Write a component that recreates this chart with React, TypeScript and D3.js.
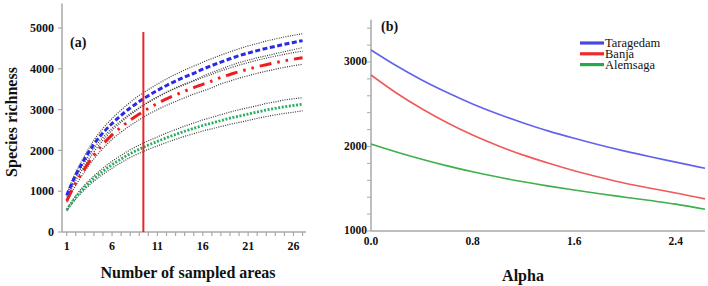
import React from "react";
import * as d3 from "d3";

// ---------- Panel (a): rarefaction curves ----------
const samples = [1,2,3,4,5,6,7,8,9,10,11,12,13,14,15,16,17,18,19,20,21,22,23,24,25,26,27];
const taragedamMean = [900,1400,1800,2150,2430,2660,2860,3040,3200,3340,3470,3590,3700,3800,3890,3990,4080,4165,4245,4320,4385,4445,4500,4550,4600,4645,4690];
const taragedamUpper = [930,1460,1880,2250,2540,2780,2990,3180,3350,3490,3625,3750,3865,3970,4065,4160,4250,4335,4415,4490,4560,4620,4680,4730,4780,4820,4860];
const taragedamLower = [870,1340,1720,2050,2320,2540,2730,2900,3050,3190,3315,3430,3535,3630,3715,3820,3910,3995,4075,4150,4210,4270,4320,4370,4420,4470,4520];
const banjaMean = [760,1200,1560,1880,2150,2380,2570,2740,2890,3030,3150,3260,3360,3450,3540,3620,3700,3790,3860,3930,3990,4050,4100,4150,4195,4235,4270];
const banjaUpper = [790,1255,1630,1965,2250,2490,2690,2870,3030,3175,3300,3415,3520,3610,3700,3785,3865,3950,4020,4090,4150,4210,4260,4310,4355,4395,4430];
const banjaLower = [730,1145,1490,1795,2050,2270,2450,2610,2750,2885,3000,3105,3200,3290,3380,3455,3535,3630,3700,3770,3830,3890,3940,3990,4035,4075,4110];
const alemsagaMean = [540,850,1100,1310,1490,1650,1790,1920,2030,2130,2220,2310,2390,2470,2540,2610,2670,2730,2790,2840,2890,2940,2990,3030,3070,3100,3130];
const alemsagaUpper = [560,890,1155,1375,1565,1735,1880,2015,2130,2235,2330,2425,2510,2595,2670,2745,2810,2875,2940,2995,3045,3095,3150,3190,3235,3265,3290];
const alemsagaLower = [520,810,1045,1245,1415,1565,1700,1825,1930,2025,2110,2195,2270,2345,2410,2475,2530,2585,2640,2685,2735,2785,2830,2870,2905,2935,2970];
const aYTicks = [0,1000,2000,3000,4000,5000];
const aXTickLabels = [1,6,11,16,21,26];
const cutoffSample = 9.45;
const cutoffTop = 4900;

// ---------- Panel (b): diversity profiles ----------
const alphas = [0,0.2,0.4,0.6,0.8,1.0,1.2,1.4,1.6,1.8,2.0,2.2,2.4,2.63];
const taragedamProfile = [3142,2955,2787,2638,2503,2384,2279,2182,2097,2018,1945,1878,1815,1742];
const banjaProfile = [2846,2633,2446,2281,2136,2010,1898,1802,1714,1636,1565,1505,1450,1380];
const alemsagaProfile = [2030,1935,1849,1771,1702,1639,1582,1531,1485,1441,1400,1360,1318,1258];
const bYTicks = [1000,2000,3000];
const bXTicks = [0,0.8,1.6,2.4];
const legendNames = ["Taragedam","Banja","Alemsaga"];

const serif = "'Times New Roman', 'Liberation Serif', serif";
const axisColor = "#a9a9a9";
const txt = { fontFamily: serif };

export default function App() {
  const xA = d3.scaleLinear().domain([0.48, 27.38]).range([62, 306]);
  const yA = d3.scaleLinear().domain([0, 5600]).range([232, 3.5]);
  const lineA = (vals: number[]) =>
    d3.line<number>().x((_, i) => xA(samples[i])).y((v) => yA(v)).curve(d3.curveMonotoneX)(vals) || "";

  const xB = d3.scaleLinear().domain([0, 2.63]).range([371, 705]);
  const yB = d3.scaleLinear().domain([1000, 3500]).range([231, 19.75]);
  const lineB = (vals: number[]) =>
    d3.line<number>().x((_, i) => xB(alphas[i])).y((v) => yB(v)).curve(d3.curveMonotoneX)(vals) || "";

  const bounds = [taragedamUpper, taragedamLower, banjaUpper, banjaLower, alemsagaUpper, alemsagaLower];
  const bMinor = d3.range(1000, 3500, 200);
  const legendColors = ["#4848e0", "#ee2a2a", "#28a84a"];
  const profileColors = ["#6262ef", "#f05a5a", "#3fae4c"];
  const profiles = [taragedamProfile, banjaProfile, alemsagaProfile];

  return (
    <svg width={708} height={286} style={{ position: "absolute", left: 0, top: 0, background: "#fff" }}>
      <g>
        <line x1={62} x2={62} y1={yA.range()[1]} y2={232} stroke={axisColor} strokeWidth={1.5} />
        <line x1={62} x2={306} y1={232} y2={232} stroke={axisColor} strokeWidth={1.5} />
        {aYTicks.map((t) => (
          <g key={"ay" + t}>
            <line x1={58} x2={62} y1={yA(t)} y2={yA(t)} stroke={axisColor} strokeWidth={1.2} />
            <text x={54} y={yA(t)} dy="0.35em" textAnchor="end" fontSize={12} fontWeight="bold" fill="#111" style={txt}>{t}</text>
          </g>
        ))}
        {samples.map((s) => (
          <line key={"axm" + s} x1={xA(s)} x2={xA(s)} y1={232} y2={236} stroke={axisColor} strokeWidth={1.2} />
        ))}
        {aXTickLabels.map((t) => (
          <text key={"ax" + t} x={xA(t)} y={250} textAnchor="middle" fontSize={12} fontWeight="bold" fill="#111" style={txt}>{t}</text>
        ))}
        <text x={188} y={278} textAnchor="middle" fontSize={16} fontWeight="bold" fill="#111" style={txt}>Number of sampled areas</text>
        <text transform="translate(17,122) rotate(-90)" textAnchor="middle" fontSize={16} fontWeight="bold" fill="#111" style={txt}>Species richness</text>
        <text x={70} y={47} fontSize={14} fontWeight="bold" fill="#111" style={txt}>(a)</text>

        {bounds.map((b, i) => (
          <path key={"bd" + i} d={lineA(b)} fill="none" stroke="#3a3a3a" strokeWidth={1.2} strokeDasharray="1,1.3" />
        ))}
        <path d={lineA(alemsagaMean)} fill="none" stroke="#25b060" strokeWidth={2.8} strokeDasharray="2,1.6" />
        <path d={lineA(banjaMean)} fill="none" stroke="#ee1c1c" strokeWidth={3} strokeDasharray="12,6,2.5,6,2.5,6" />
        <path d={lineA(taragedamMean)} fill="none" stroke="#2a2ae6" strokeWidth={3} strokeDasharray="5,2.5" />

        <line x1={xA(cutoffSample)} x2={xA(cutoffSample)} y1={yA(cutoffTop)} y2={232} stroke="#e8262a" strokeWidth={2} />
      </g>

      <g>
        <line x1={371} x2={371} y1={yB(3500)} y2={231} stroke={axisColor} strokeWidth={1.5} />
        <line x1={371} x2={705} y1={231} y2={231} stroke={axisColor} strokeWidth={1.5} />
        {bMinor.map((t) => (
          <line key={"bm" + t} x1={367} x2={371} y1={yB(t)} y2={yB(t)} stroke={axisColor} strokeWidth={1} />
        ))}
        {bYTicks.map((t) => (
          <text key={"by" + t} x={367} y={yB(t)} dy="0.3em" textAnchor="end" fontSize={11.5} fontWeight="bold" fill="#111" style={txt}>{t}</text>
        ))}
        {bXTicks.map((t) => (
          <text key={"bx" + t} x={xB(t)} y={245} textAnchor="middle" fontSize={11.5} fontWeight="bold" fill="#111" style={txt}>{t.toFixed(1)}</text>
        ))}
        <text x={523} y={281} textAnchor="middle" fontSize={16} fontWeight="bold" fill="#111" style={txt}>Alpha</text>
        <text x={381} y={31} fontSize={14} fontWeight="bold" fill="#111" style={txt}>(b)</text>

        {profiles.map((p, i) => (
          <path key={"pf" + i} d={lineB(p)} fill="none" stroke={profileColors[i]} strokeWidth={1.6} />
        ))}

        {legendNames.map((n, i) => (
          <g key={"lg" + n}>
            <line x1={580} x2={604} y1={43 + i * 10.8} y2={43 + i * 10.8} stroke={legendColors[i]} strokeWidth={3.2} />
            <text x={605} y={43 + i * 10.8} dy="0.33em" fontSize={12.5} fill="#111" style={txt}>{n}</text>
          </g>
        ))}
      </g>
    </svg>
  );
}
